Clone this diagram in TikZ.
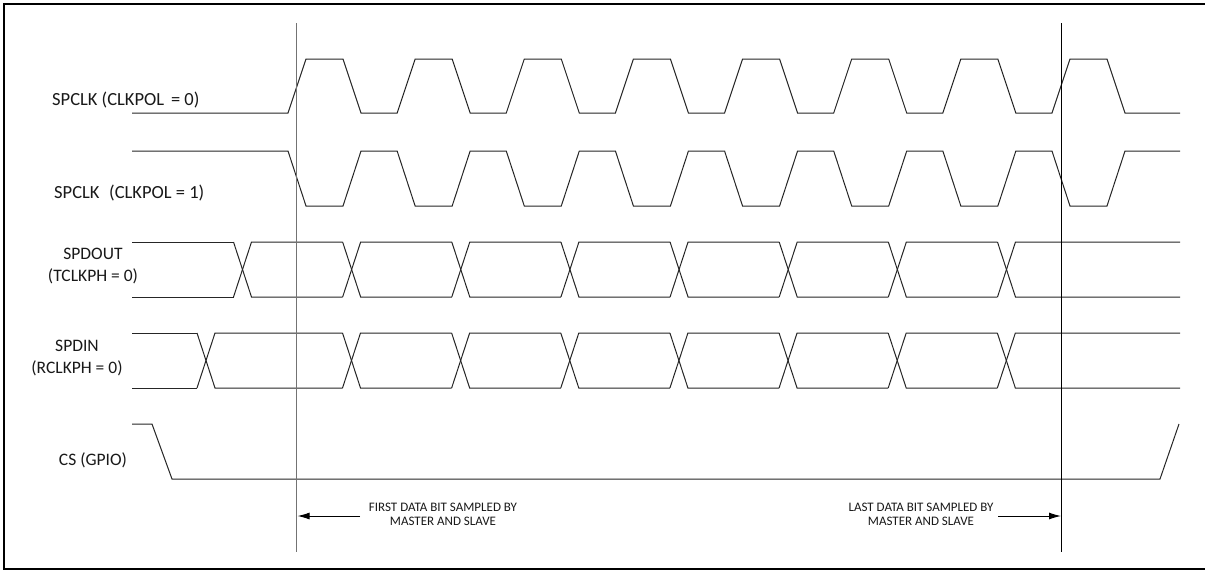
\documentclass[tikz,border=0pt]{standalone}
\usepackage{fontspec}
\setmainfont{Carlito}
\usetikzlibrary{arrows.meta}
\begin{document}
\begin{tikzpicture}[x=1pt,y=-1pt,
  sig/.style={line width=1pt,black!85,line join=miter},
  vline/.style={line width=1pt},
  lbl/.style={inner sep=0pt,font=\fontsize{17.5}{21.5}\selectfont,text=black!90,align=center},
  clbl/.style={inner sep=0pt,font=\fontsize{18.5}{21.5}\selectfont,text=black!90},
  note/.style={inner sep=0pt,font=\fontsize{13}{13.8}\selectfont,text=black!90,align=center},
  arr/.style={line width=1pt,-{Latex[length=12pt,width=7pt]}}]
\useasboundingbox (0,0) rectangle (1205,571);
\fill[white] (0,0) rectangle (1205,571);
% frame
\draw[line width=2pt] (1206,4) -- (4,4) -- (4,569) -- (1206,569);
% labels
\node[clbl,anchor=west] (l0) at (52,100) {SPCLK (CLKPOL\hspace{0.15em} = 0)};
\node[clbl,anchor=west] (l1) at (54,193) {SPCLK\hspace{0.3em} (CLKPOL = 1)};
\node[lbl] (l2) at (93,266) {SPDOUT\\(TCLKPH = 0)};
\node[lbl] (l3) at (77,358) {SPDIN\\(RCLKPH = 0)};
\node[lbl] (l4) at (93,460) {CS (GPIO)};
% SPCLK CLKPOL=0
\draw[sig] (132,113) foreach \k in {0,...,7} {
  -- ({288+\k*109.14},113) -- ({306+\k*109.14},59) -- ({343+\k*109.14},59) -- ({361+\k*109.14},113) } -- (1180,113);
% SPCLK CLKPOL=1
\draw[sig] (132,151) foreach \k in {0,...,7} {
  -- ({288+\k*109.14},151) -- ({306+\k*109.14},206) -- ({343+\k*109.14},206) -- ({361+\k*109.14},151) } -- (1180,151);
% SPDOUT
\draw[sig] (132,242) -- (233.5,242) (132,297) -- (233.5,297);
\foreach \k in {0,...,7} {
  \pgfmathsetmacro{\c}{242.5+\k*109.14}
  \pgfmathsetmacro{\n}{ifthenelse(\k==7,1180,242.5+(\k+1)*109.14-9)}
  \draw[sig] (\c-9,242) -- (\c+9,297) -- (\n,297);
  \draw[sig] (\c-9,297) -- (\c+9,242) -- (\n,242);
}
% SPDIN
\draw[sig] (132,333) -- (197,333) (132,388) -- (197,388);
\draw[sig] (197,333) -- (215,388) -- (342.5,388);
\draw[sig] (197,388) -- (215,333) -- (342.5,333);
\foreach \k in {0,...,6} {
  \pgfmathsetmacro{\c}{351.5+\k*109.14}
  \pgfmathsetmacro{\n}{ifthenelse(\k==6,1180,351.5+(\k+1)*109.14-9)}
  \draw[sig] (\c-9,333) -- (\c+9,388) -- (\n,388);
  \draw[sig] (\c-9,388) -- (\c+9,333) -- (\n,333);
}
% CS
\draw[sig] (132,424) -- (152,424) -- (172,479) -- (1160,479) -- (1179,424);
% vertical markers
\coordinate (v1t) at (296.5,23); \coordinate (v1b) at (296.5,552);
\coordinate (v2t) at (1061.5,23); \coordinate (v2b) at (1061.5,552);
\draw[vline,line width=1.3pt,black!55] (v1t) -- (v1b);
\draw[vline] (v2t) -- (v2b);
% notes
\node[note] (n1) at (443,514) {FIRST DATA BIT SAMPLED BY\\MASTER AND SLAVE};
\node[note] (n2) at (921,514) {LAST DATA BIT SAMPLED BY\\MASTER AND SLAVE};
\coordinate (a1s) at (360,516); \coordinate (a1e) at (297.5,516);
\coordinate (a2s) at (998,516); \coordinate (a2e) at (1061,516);
\draw[arr] (a1s) -- (a1e);
\draw[arr] (a2s) -- (a2e);
\end{tikzpicture}
\end{document}
